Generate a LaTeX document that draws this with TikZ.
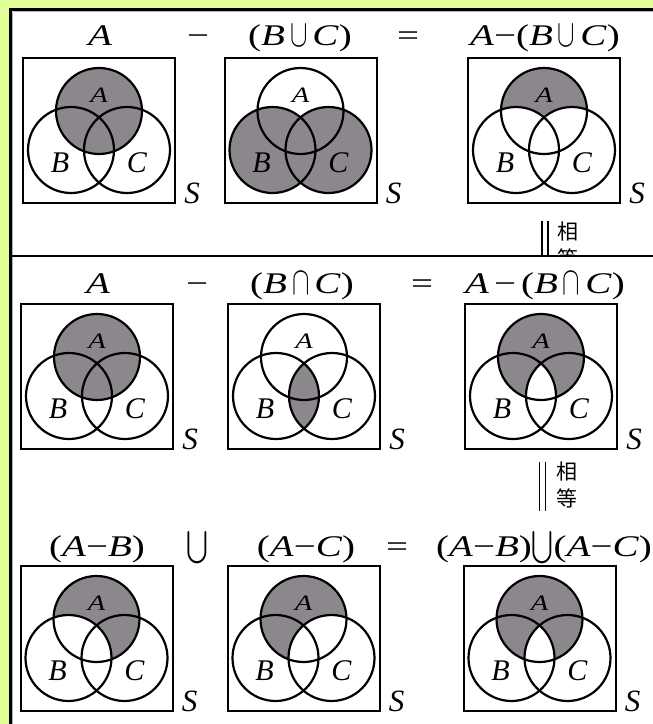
\documentclass[tikz,border=0pt]{standalone}
\usepackage{fontspec}
\setmainfont{Liberation Serif}
\newfontfamily\wideserif[FakeStretch=1.3]{Liberation Serif}
\newfontfamily\cjk{Noto Sans CJK SC}
\usepackage{graphicx}
\usepackage{exscale}
\definecolor{bgyellow}{RGB}{225,255,150}
\definecolor{shadegray}{RGB}{140,135,140}
\newcommand\I[1]{\textit{#1}}
\newcommand\cupS{\,\raisebox{-1pt}{\scalebox{1.05}[1.55]{$\cup$}}\,}
\newcommand\capS{\,\raisebox{-1pt}{\scalebox{1.05}[1.6]{$\cap$}}\,}
\newcommand\bigcupS{\scalebox{1.05}[1.3]{$\bigcup$}}
\tikzset{
  hdr/.style={anchor=base, inner sep=0pt, font=\fontsize{30}{30}\wideserif},
  lblA/.style={anchor=base, inner sep=0pt, font=\fontsize{22}{22}\wideserif\itshape},
  lblBC/.style={anchor=base, inner sep=0pt, font=\fontsize{30}{30}\selectfont\itshape},
  lblS/.style={anchor=base, inner sep=0pt, font=\fontsize{31}{31}\selectfont\itshape},
  frame/.style={draw, line width=2pt},
  ring/.style={draw, line width=2.2pt},
  cjkt/.style={inner sep=0pt, font=\fontsize{21}{21}\selectfont\cjk},
  bar/.style={line width=1.6pt},
}
\newcommand\venn[4]{%
  \pgfmathsetmacro\vx{#2}\pgfmathsetmacro\vy{#3}%
  \coordinate (#1-a) at (\vx,\vy+53);
  \coordinate (#1-b) at (\vx-28,\vy+92);
  \coordinate (#1-c) at (\vx+28,\vy+92);
  \def\A{(#1-a) circle[radius=43pt]}%
  \def\B{(#1-b) circle[radius=43pt]}%
  \def\C{(#1-c) circle[radius=43pt]}%
  #4
  \draw[frame] (\vx-76,\vy) rectangle (\vx+76,\vy+145);
  \draw[ring] (#1-a) circle[radius=43pt];
  \draw[ring] (#1-b) circle[radius=43pt];
  \draw[ring] (#1-c) circle[radius=43pt];
  \node[lblA] (#1-la) at (\vx,\vy+44) {A};
  \node[lblBC] (#1-lb) at (\vx-39,\vy+114) {B};
  \node[lblBC] (#1-lc) at (\vx+38,\vy+114) {C};
  \node[lblS] (#1-ls) at (\vx+93,\vy+145) {S};
}
\begin{document}
\begin{tikzpicture}[x=1pt,y=-1pt]
\useasboundingbox (0,0) rectangle (653,724);
\clip (0,0) rectangle (653,724);
\fill[bgyellow] (0,0) rectangle (653,724);
\draw[fill=white, line width=3pt] (10,9) rectangle (670,740);
\draw[gray!60, line width=0.8pt] (12.5,11.5) -- (670,11.5);
\draw[gray!60, line width=0.8pt] (12.5,11.5) -- (12.5,740);

% ---------- row 1 ----------
\node[hdr] (h11) at (100,45) {\I{A}};
\node[hdr] (h12) at (198,45) {−};
\node[hdr] (h13) at (300,45) {(\I{B}\cupS\I{C})};
\node[hdr] (h14) at (408,45) {=};
\node[hdr] (h15) at (545,45) {\I{A}−(\I{B}\cupS\I{C})};
\venn{v11}{99}{58}{\fill[shadegray] \A;}
\venn{v12}{300.5}{58}{\fill[shadegray] \B; \fill[shadegray] \C;}
\venn{v13}{544}{58}{\fill[shadegray] \A; \fill[white] \B; \fill[white] \C;}

\begin{scope}
  \clip (0,0) rectangle (653,255);
  \node[cjkt] (x1) at (568,232) {相};
  \node[cjkt] (y1) at (568,258) {等};
\end{scope}
\draw[bar] (542,221) -- (542,256);
\draw[bar] (548,221) -- (548,256);
\draw[line width=2.5pt] (10,256) -- (653,256);

% ---------- row 2 ----------
\node[hdr] (h21) at (98,293) {\I{A}};
\node[hdr] (h22) at (197,293) {−};
\node[hdr] (h23) at (302,293) {(\I{B}\capS\I{C})};
\node[hdr] (h24) at (422,293) {=};
\node[hdr] (h25) at (545,293) {\I{A}\,−\,(\I{B}\capS\I{C})};
\venn{v21}{97}{304}{\fill[shadegray] \A;}
\venn{v22}{304}{304}{\begin{scope}\clip \B; \fill[shadegray] \C;\end{scope}}
\venn{v23}{541}{304}{\fill[shadegray] \A; \begin{scope}\clip \B; \fill[white] \C;\end{scope}}

\node[cjkt] (x2) at (567,472) {相};
\node[cjkt] (y2) at (567,498) {等};
\draw[bar] (539.5,462) -- (539.5,511);
\draw[bar] (545.5,462) -- (545.5,511);

% ---------- row 3 ----------
\node[hdr] (h31) at (97,556) {(\I{A}−\I{B})};
\node[hdr] (h32) at (197,556) {\bigcupS};
\node[hdr] (h33) at (306,556) {(\I{A}−\I{C})};
\node[hdr] (h34) at (397,556) {=};
\node[hdr] (h35) at (544,556) {(\I{A}−\I{B})\bigcupS(\I{A}−\I{C})};
\venn{v31}{96.5}{566}{\fill[shadegray] \A; \fill[white] \B;}
\venn{v32}{303.5}{566}{\fill[shadegray] \A; \fill[white] \C;}
\venn{v33}{539.5}{566}{\fill[shadegray] \A; \begin{scope}\clip \B; \fill[white] \C;\end{scope}}
\end{tikzpicture}
\end{document}
